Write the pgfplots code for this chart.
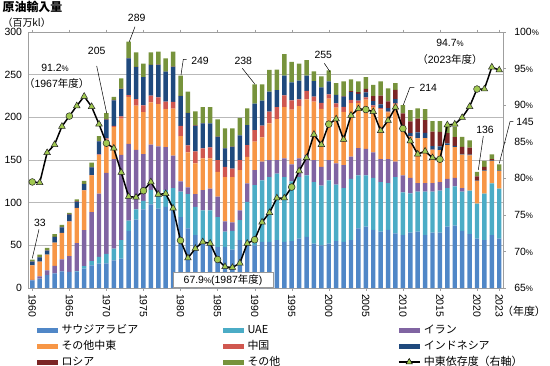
\documentclass[border=0pt]{standalone}
\usepackage{fontspec}
\setmainfont{Liberation Sans}
\newfontfamily\jp{Noto Sans CJK JP}
\usepackage{pgfplots}
\usepackage{pgfplotstable}
\pgfplotsset{compat=1.18}
\definecolor{cSaudi}{HTML}{5087C7}
\definecolor{cUAE}{HTML}{4BACC6}
\definecolor{cIran}{HTML}{8064A2}
\definecolor{cOME}{HTML}{F79646}
\definecolor{cChina}{HTML}{D0574F}
\definecolor{cIndo}{HTML}{1F497D}
\definecolor{cRussia}{HTML}{7B2525}
\definecolor{cOther}{HTML}{77933C}
\definecolor{mkgreen}{HTML}{A0C850}
\pgfplotsset{barleg/.style={legend image code/.code={\fill[##1] (0bp,-2.5bp) rectangle (21bp,2.5bp);}},
  lineleg/.style={legend image code/.code={\draw[##1, sharp plot, mark repeat=2, mark phase=2] plot coordinates {(0bp,0bp) (10.5bp,0bp) (21bp,0bp)};}}}
\pgfplotstableread{
year saudi uae iran ome china indo russia other pct
1960 9 0 0.5 17 0 4.5 0.3 2 79.5
1961 11 0 2.7 17.3 0 5 0.3 2.7 79.4
1962 15 0 5.7 18.5 0 4.5 0.3 3 83.5
1963 17 0 9 27.3 0 6.5 0.2 3 84.6
1964 19.5 0 14 31 0 6.5 0.5 2.5 87.1
1965 19 0 18.5 40.4 0.2 8 0.4 1.5 88.5
1966 19 0.5 33 41 0.5 7 0.5 2.5 89.9
1967 22.7 3 42 46.8 0.3 7 0.3 3.5 91.2
1968 26.6 5 57.3 43 0.5 9 0.3 5.3 89.8
1969 28.6 7.8 74.3 45 1 15 0.3 5.9 87.4
1970 29 11 95 38.8 1.5 22 0.5 7.2 84.8
1971 32.5 13.5 105 37.4 1.5 30 0.5 3.6 84.1
1972 34.4 21.6 100 42.5 2.5 32 0.5 12.2 80.8
1973 67 12 90 55 2 43 0.5 19.2 77.5
1974 80 12 70 51.6 7.6 37.5 0.3 17 77.4
1975 92 10 55 49 8 33 0.2 15.8 78.3
1976 98 17 53 49.4 8 36 0.2 14.4 79.5
1977 93 18 55 49.5 8 38 0.2 15.3 77.8
1978 95 20 50 44.5 9 35 0.2 15.3 77.9
1979 92 25 38 55.2 8 41 0.3 17.5 75.9
1980 83 30 12 53 12 35 0.2 23.8 71.5
1981 70 40 8 41 8 38 0.3 24.7 69.1
1982 62 33 15 36 14 30 0.5 16.5 70.4
1983 55 36 23.6 37.2 11.7 29.5 0.3 18.7 71.3
1984 52 39 25.6 35.2 13 28 0 19.2 71.1
1985 48 35 24 29 14 27 0.3 20.3 68.9
1986 48 18 12 52 12 21.5 0.3 23.2 67.9
1987 45 22 10 53 10 25.5 0.3 21.2 67.8
1988 56 23.4 11.6 47 12 29 0 20.5 68.4
1989 54 47 21.5 31.3 13.7 23.5 0 19.5 71.1
1990 50 70.5 17.5 33.4 13.6 31 0 22.7 71.6
1991 54 72 22 28.6 13.7 29.3 0 19.1 74.0
1992 54 76 20 43 13.6 23.4 0 25.5 75.3
1993 56 78 16 48 14 20 0 24 77.3
1994 54 76 22 60 13.6 23.4 0 25 77.3
1995 55 70 20 64 11 21 0 24 78.8
1996 58 72 22 61 8 22 0 20 81.0
1997 60 72 24 65 10 18 0 18 82.8
1998 52 72 26 68.4 6 18 0 11.6 86.0
1999 50 70 22 68 7 18 0 13 84.6
2000 52 74 24 72 5 15 0 13 87.4
2001 55 66 25 65.4 5 10 0 13.6 88.1
2002 54 63 27 62.4 6 12 0.5 17.1 85.3
2003 56 72 26 62.6 4 9 1 13.9 88.6
2004 70 62 32 52.6 3 8 2 12.4 89.5
2005 72 60 31 57.8 2.5 6 4 13.7 89.4
2006 68 61 30 53 2 5 6 13 89.1
2007 66 58 27 58.3 1.5 4.5 10 16.7 86.5
2008 68 55 28 54.7 1 4 8 15.3 87.9
2009 64 66 18 67.3 1 5 11 7.7 89.7
2010 62 50 20 54.1 0.5 3 15 9.8 86.8
2011 65 46 18 48.4 0.5 3.5 14 13.1 85.1
2012 66 47 10 52.3 0.3 6.9 16 12 83.3
2013 62 51 10 52.5 0.2 6 15 13 83.7
2014 65 48 10 39 0.2 4 17 12.4 82.8
2015 65 49 10 37.6 0 4.5 17 12.5 82.6
2016 72 45 11 39.4 0 2 12 10.3 87.3
2017 73 46 10 36.2 0 1.5 10 12.3 87.4
2018 67 46 4 39.3 0 1 8 11.7 88.3
2019 63 51 0 41.4 0 1 8 8.6 89.8
2020 58 41 0 26.4 0 0.5 5 5.1 92.2
2021 56 54.7 0 26.7 0 0.5 4 7.1 92.2
2022 62 60.5 0 26.5 0 0.5 1.5 5.5 95.2
2023 58 58.6 0 20.7 0 0.5 0 7 94.8
}\datatab
\begin{document}
\begin{tikzpicture}
\useasboundingbox (-28bp,-78bp) rectangle (522bp,288bp);
\begin{axis}[
  at={(0,0)}, anchor=south west,
  scale only axis, width=475.3bp, height=256bp,
  xmin=1959.42, xmax=2023.55, ymin=0, ymax=300,
  ybar stacked, bar width=0.6,
  ytick={0,50,100,150,200,250,300},
  xtick={1960,1965,1970,1975,1980,1985,1990,1995,2000,2005,2010,2015,2020,2023},
  xticklabel style={rotate=-90, anchor=west, /pgf/number format/1000 sep={}},
  tick label style={font=\fontsize{10.5}{12}\selectfont},
  /pgf/number format/assume math mode=true,
  ymajorgrids, grid style={gray!55, line width=0.6pt},
  axis line style={gray!75, line width=0.6pt},
  xtick style={gray!75}, ytick style={draw=none},
  tick align=outside, major tick length=2.5bp,
  legend columns=3,
  legend cell align=left,
  legend style={at={(axis description cs:0.019,-0.137)}, anchor=north west,
    draw=none, fill=none, inner sep=0pt, outer sep=0pt,
    font=\fontsize{11}{13}\selectfont\jp, row sep=2bp,
    nodes={inner sep=1.5bp, text height=8.5bp, text depth=2.5bp},
    /tikz/every odd column/.append style={column sep=2bp}},
]
\addplot[fill=cSaudi, draw=none, barleg] table[x=year,y=saudi]{\datatab};
\addlegendentry{\makebox[160bp][l]{サウジアラビア}}
\addplot[fill=cUAE, draw=none, barleg] table[x=year,y=uae]{\datatab};
\addlegendentry{\makebox[149bp][l]{UAE}}
\addplot[fill=cIran, draw=none, barleg] table[x=year,y=iran]{\datatab};
\addlegendentry{イラン}
\addplot[fill=cOME, draw=none, barleg] table[x=year,y=ome]{\datatab};
\addlegendentry{\makebox[160bp][l]{その他中東}}
\addplot[fill=cChina, draw=none, barleg] table[x=year,y=china]{\datatab};
\addlegendentry{\makebox[149bp][l]{中国}}
\addplot[fill=cIndo, draw=none, barleg] table[x=year,y=indo]{\datatab};
\addlegendentry{インドネシア}
\addplot[fill=cRussia, draw=none, barleg] table[x=year,y=russia]{\datatab};
\addlegendentry{\makebox[160bp][l]{ロシア}}
\addplot[fill=cOther, draw=none, barleg] table[x=year,y=other]{\datatab};
\addlegendentry{\makebox[149bp][l]{その他}}
\addlegendimage{black, solid, line width=1.4pt, mark=triangle*, mark size=3.6bp,
  mark options={fill=mkgreen, draw=black, line width=0.5pt, solid}, lineleg}
\addlegendentry{中東依存度（右軸）}
\end{axis}
\begin{axis}[
  at={(0,0)}, anchor=south west,
  scale only axis, width=475.3bp, height=256bp,
  xmin=1959.42, xmax=2023.55, ymin=65, ymax=100,
  axis y line*=right, axis x line=none,
  ytick={65,70,75,80,85,90,95,100},
  yticklabel={\pgfmathprintnumber{\tick}{\fontsize{8}{9}\selectfont\%}},
  yticklabel style={xshift=5bp},
  tick label style={font=\fontsize{10.5}{12}\selectfont},
  /pgf/number format/assume math mode=true,
  axis line style={gray!75, line width=0.6pt},
  ytick style={gray!75}, tick align=outside, major tick length=2.5bp,
]
\addplot[black, line width=1.5pt, mark=triangle*, mark size=3.8bp,
  mark options={fill=mkgreen, draw=black!85, line width=0.5pt, solid},
  mark indices={2,3,4,5,7,8,9,10,12,13,14,15,17,18,19,20,22,23,24,25,27,28,29,30,32,33,34,35,37,38,39,40,42,43,44,45,47,48,49,50,52,53,54,55,57,58,59,60,62,63,64}]
  table[x=year,y=pct]{\datatab};
\addplot[only marks, mark=*, mark size=3.4bp, mark repeat=5, mark phase=1,
  mark options={fill=mkgreen, draw=black!85, line width=0.5pt}]
  table[x=year,y=pct]{\datatab};
\end{axis}
\begin{scope}[font=\fontsize{10.5}{12}\selectfont, line width=0.5pt]
\node at (4.5bp,281.3bp) {\fontsize{12}{14}\selectfont\jp\bfseries 原油輸入量};
\node at (-1.3bp,265.3bp) {\fontsize{10}{12}\selectfont\jp （百万kl）};
\node at (12bp,64.7bp) {33};
\draw (11bp,58.7bp) -- (4.3bp,29.7bp);
\node at (27bp,219.7bp) {91.2{\fontsize{8}{9}\selectfont\%}};
\node at (28.7bp,204.7bp) {{\jp （}1967{\jp 年度）}};
\node at (68.7bp,237.3bp) {205};
\draw (68.7bp,222bp) -- (78.7bp,174.7bp);
\node at (108.7bp,269.7bp) {289};
\draw (107bp,261.3bp) -- (101.3bp,246.3bp);
\node at (172bp,227.3bp) {249};
\draw (158.7bp,228.7bp) -- (155.3bp,228.7bp) -- (153bp,213bp);
\node at (215.3bp,227.3bp) {238};
\draw (214.3bp,219.7bp) -- (227bp,203.7bp);
\node at (295.3bp,233bp) {255};
\draw (296.3bp,224.7bp) -- (302bp,216.3bp);
\node at (400.3bp,200.3bp) {214};
\draw (386.3bp,200.7bp) -- (382bp,200.7bp) -- (375.3bp,183bp);
\node at (457bp,158bp) {136};
\draw (455.3bp,152bp) -- (450.3bp,118bp);
\node at (497bp,166.3bp) {145};
\draw (485.3bp,166.3bp) -- (482bp,166.3bp) -- (471.3bp,124.7bp);
\node at (422bp,244.7bp) {94.7{\fontsize{8}{9}\selectfont\%}};
\node at (422bp,228bp) {{\jp （}2023{\jp 年度）}};
\node[draw=gray!80, fill=white, minimum width=100bp, minimum height=14.3bp, inner sep=0pt] at (195bp,8.2bp) {67.9{\fontsize{8}{9}\selectfont\%}(1987{\jp 年度})};
\node at (496bp,-23.7bp) {\fontsize{11}{13}\selectfont\jp （年度）};
\end{scope}
\end{tikzpicture}
\end{document}
